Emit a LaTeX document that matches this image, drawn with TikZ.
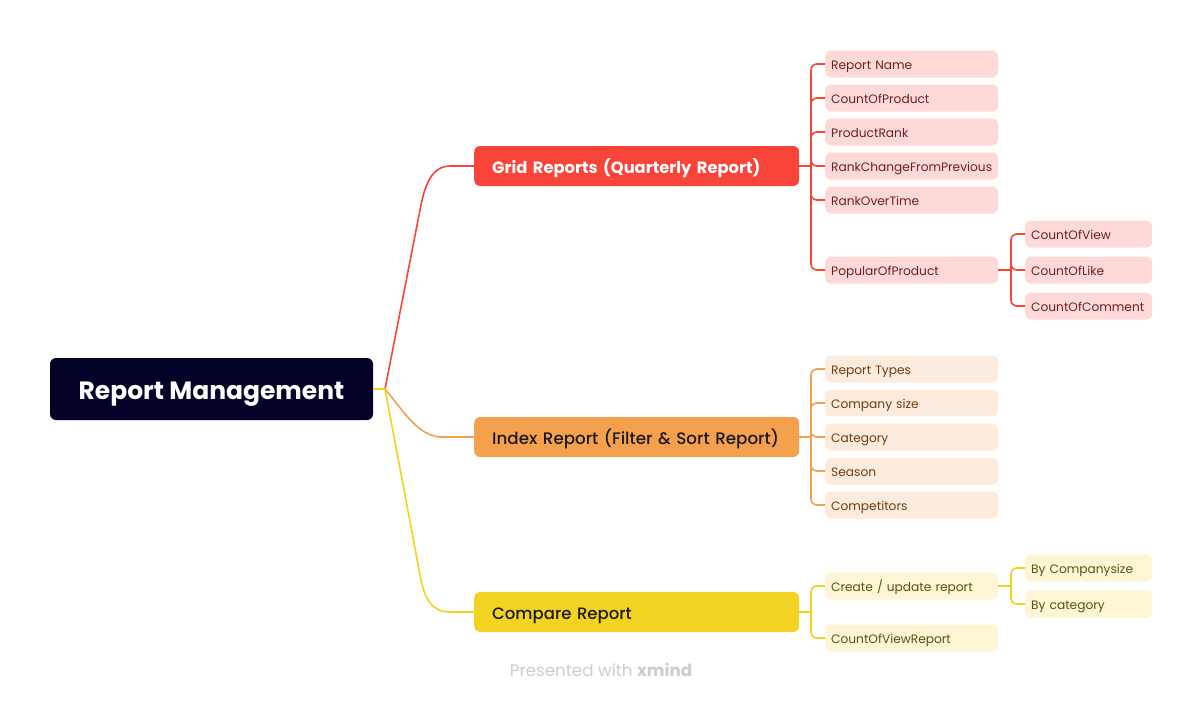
\documentclass[tikz,border=0pt]{standalone}
\usepackage{fontspec}
\setmainfont{Poppins}
\newfontfamily\pmed{Poppins}[UprightFont={* Medium}]
\definecolor{rootc}{HTML}{03032A}
\definecolor{redc}{HTML}{F9443A}
\definecolor{redleaf}{HTML}{FFD9D8}
\definecolor{redtxt}{HTML}{6E1F1F}
\definecolor{orac}{HTML}{F5A04D}
\definecolor{oraleaf}{HTML}{FDEBDD}
\definecolor{oratxt}{HTML}{6E3C12}
\definecolor{yelc}{HTML}{F2D322}
\definecolor{yelleaf}{HTML}{FDF5D3}
\definecolor{yeltxt}{HTML}{5C5015}
\definecolor{maintxt}{HTML}{1A1A1A}
\definecolor{foot}{HTML}{CDCDCD}
\begin{document}
\begin{tikzpicture}[x=1pt,y=-1pt,
  leaf/.style={rounded corners=6pt, minimum height=27pt, text width=161pt, inner xsep=6pt, inner ysep=0pt, align=left, anchor=west, text height=10.6pt, text depth=0pt, font=\fontsize{12.2}{14}\selectfont},
  subleaf/.style={leaf, text width=115pt},
  leafR/.style={leaf, fill=redleaf, text=redtxt},
  leafO/.style={leaf, fill=oraleaf, text=oratxt},
  leafY/.style={leaf, fill=yelleaf, text=yeltxt},
  subR/.style={subleaf, fill=redleaf, text=redtxt},
  subY/.style={subleaf, fill=yelleaf, text=yeltxt},
  mainbox/.style={rounded corners=6pt, minimum height=40pt, text width=289pt, inner xsep=18pt, inner ysep=0pt, align=left, anchor=west, text height=14.4pt, text depth=0pt},
  rline/.style={draw=redc, line width=1.6pt},
  oline/.style={draw=orac, line width=1.6pt},
  yline/.style={draw=yelc, line width=1.6pt},
  branch/.style={rounded corners=6pt}
]
\useasboundingbox (0,0) rectangle (1203,702);

% root
\node[fill=rootc, rounded corners=6pt, minimum width=323pt, minimum height=62pt, inner ysep=0pt, text height=20.4pt, text depth=0pt, text=white, font=\fontsize{25}{30}\selectfont\bfseries] (root) at (211.5,389) {Report Management};
\coordinate (hub) at (385,389);

% main branches
\node[mainbox, fill=redc, text=white, font=\fontsize{16.3}{20}\selectfont\bfseries] (grid) at (474,166) {\mbox{Grid Reports (Quarterly Report)}};
\node[mainbox, fill=orac, text=maintxt, font=\fontsize{16.7}{20}\selectfont\pmed] (index) at (474,437) {\mbox{Index Report (Filter \& Sort Report)}};
\node[mainbox, fill=yelc, text=maintxt, font=\fontsize{16.5}{20}\selectfont\pmed] (cmp) at (474,612) {\mbox{Compare Report}};

% root connectors
\draw[rline] (hub) -- (421,205) .. controls (425,185) and (432,166) .. (450,166) -- (grid.west);
\draw[oline] (hub) .. controls (403,410) and (418,437) .. (442,437) -- (index.west);
\draw[yline] (hub) -- (421,580) .. controls (425,599) and (432,612) .. (450,612) -- (cmp.west);
\draw[yline] (root.east) -- (hub);

% red leaves
\node[leafR] (r1) at (825,64) {Report Name};
\node[leafR] (r2) at (825,98) {CountOfProduct};
\node[leafR] (r3) at (825,132) {ProductRank};
\node[leafR] (r4) at (825,166) {RankChangeFromPrevious};
\node[leafR] (r5) at (825,200) {RankOverTime};
\node[leafR] (r6) at (825,270) {PopularOfProduct};
\node[subR] (r61) at (1025,234) {CountOfView};
\node[subR] (r62) at (1025,270) {CountOfLike};
\node[subR] (r63) at (1025,306) {CountOfComment};
\coordinate (rt) at (811,166);
\draw[rline] (grid.east) -- (rt);
\foreach \c in {r1,r2,r3,r4,r5,r6} \draw[rline, branch] (rt) |- (\c.west);
\coordinate (rt6) at (1011,270);
\draw[rline] (r6.east) -- (rt6);
\foreach \c in {r61,r62,r63} \draw[rline, branch] (rt6) |- (\c.west);

% orange leaves
\node[leafO] (o1) at (825,369) {Report Types};
\node[leafO] (o2) at (825,403) {Company size};
\node[leafO] (o3) at (825,437) {Category};
\node[leafO] (o4) at (825,471) {Season};
\node[leafO] (o5) at (825,505) {Competitors};
\coordinate (ot) at (811,437);
\draw[oline] (index.east) -- (ot);
\foreach \c in {o1,o2,o3,o4,o5} \draw[oline, branch] (ot) |- (\c.west);

% yellow leaves
\node[leafY] (y1) at (825,586) {Create / update report};
\node[leafY] (y2) at (825,638) {CountOfViewReport};
\node[subY] (y11) at (1025,568) {By Companysize};
\node[subY] (y12) at (1025,604) {By category};
\coordinate (yt) at (811,612);
\draw[yline] (cmp.east) -- (yt);
\foreach \c in {y1,y2} \draw[yline, branch] (yt) |- (\c.west);
\coordinate (yt1) at (1011,586);
\draw[yline] (y1.east) -- (yt1);
\foreach \c in {y11,y12} \draw[yline, branch] (yt1) |- (\c.west);

% footer
\node[text=foot, font=\fontsize{16.7}{18}\selectfont] (ft) at (601,670) {Presented with \textbf{xmind}};
\end{tikzpicture}
\end{document}
